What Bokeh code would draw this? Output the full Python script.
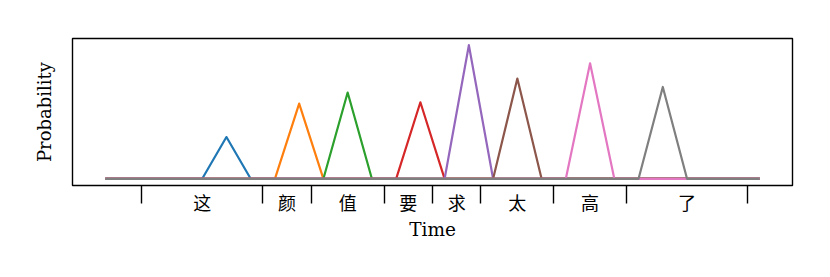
from bokeh.plotting import figure
from bokeh.models import Range1d, FixedTicker, ColumnDataSource
from bokeh.embed import file_html
from bokeh.resources import INLINE

# ---- data ----
tokens = ["这", "颜", "值", "要", "求", "太", "高", "了"]
peak_times = [5, 8, 10, 13, 15, 17, 20, 23]
peak_probs = [0.30, 0.54, 0.62, 0.55, 0.96, 0.72, 0.83, 0.66]
boundaries = [1.5, 6.5, 8.5, 11.5, 13.5, 15.5, 18.5, 21.5, 26.5]
n_frames = 28
colors = ["#1f77b4", "#ff7f0e", "#2ca02c", "#d62728",
          "#9467bd", "#8c564b", "#e377c2", "#7f7f7f"]

FONT = "DejaVu Serif, Noto Sans CJK SC"

frames = list(range(n_frames))
centers = [(boundaries[i] + boundaries[i + 1]) / 2 for i in range(len(tokens))]

ymax = max(peak_probs)
p = figure(width=822, height=269, output_backend="svg", toolbar_location=None,
           x_range=Range1d(-0.05 * (n_frames - 1), (n_frames - 1) * 1.05),
           y_range=Range1d(-0.05 * ymax, 1.05 * ymax),
           min_border_left=72, min_border_right=30,
           min_border_top=38, min_border_bottom=84)

for tok, t, pr, c in zip(tokens, peak_times, peak_probs, colors):
    vals = [0.0] * n_frames
    vals[t] = pr
    src = ColumnDataSource(dict(x=frames, y=vals))
    p.line("x", "y", source=src, line_color=c, line_width=2.2, line_join="round")

p.grid.visible = False
p.background_fill_color = "white"
p.border_fill_color = "white"
p.outline_line_color = "black"
p.outline_line_width = 1.4

# x axis: boundaries as long ticks, token labels centred between them
xa = p.xaxis[0]
xa.ticker = FixedTicker(ticks=centers, minor_ticks=boundaries)
xa.major_label_overrides = {c: t for c, t in zip(centers, tokens)}
xa.major_tick_out = 0
xa.major_tick_in = 0
xa.minor_tick_out = 18
xa.minor_tick_in = 0
xa.minor_tick_line_color = "black"
xa.minor_tick_line_width = 1.4
xa.axis_line_color = None
xa.major_label_standoff = -11
xa.major_label_text_font = FONT
xa.major_label_text_font_size = "18px"
xa.major_label_text_color = "black"
xa.axis_label = "Time"
xa.axis_label_text_font = FONT
xa.axis_label_text_font_size = "18.5px"
xa.axis_label_text_font_style = "normal"
xa.axis_label_text_color = "black"
xa.axis_label_standoff = 2

ya = p.yaxis[0]
ya.ticker = FixedTicker(ticks=[])
ya.major_tick_out = 0
ya.major_tick_in = 0
ya.minor_tick_out = 0
ya.minor_tick_in = 0
ya.axis_line_color = None
ya.axis_label = "Probability"
ya.axis_label_text_font = FONT
ya.axis_label_text_font_size = "18px"
ya.axis_label_text_font_style = "normal"
ya.axis_label_text_color = "black"
ya.axis_label_standoff = 18

open("out.html", "w").write(file_html(p, INLINE))
